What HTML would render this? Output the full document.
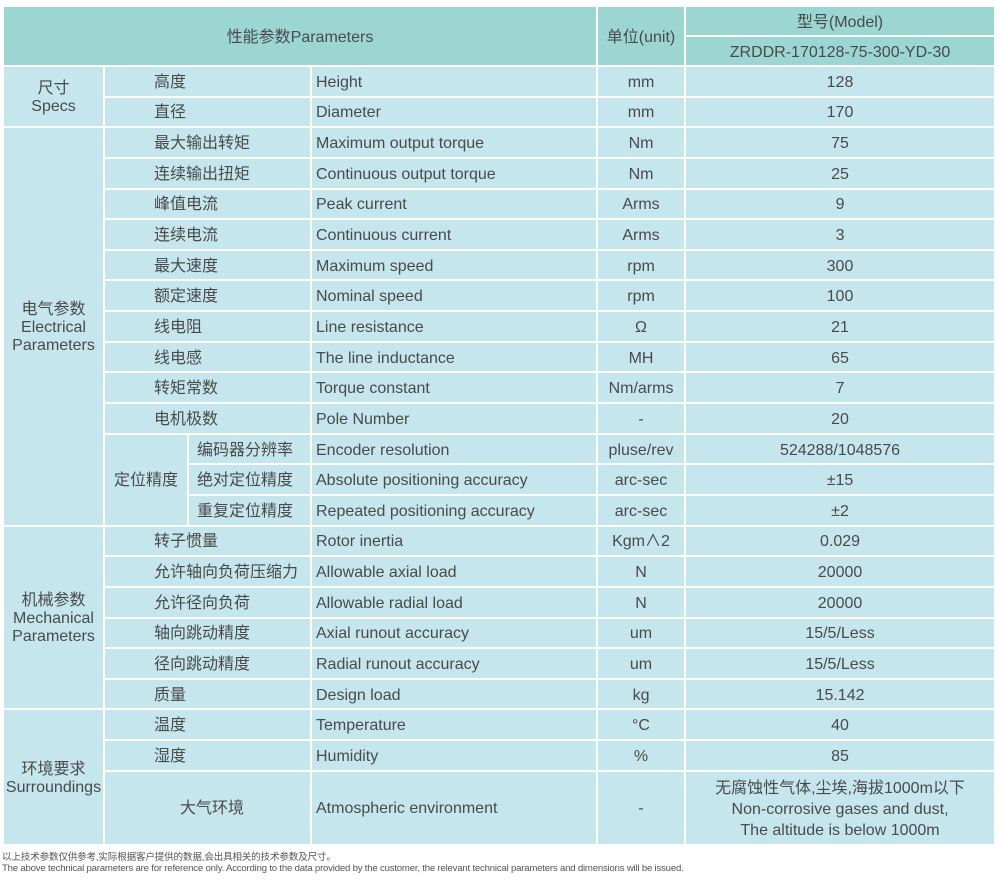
<!DOCTYPE html>
<html><head><meta charset="utf-8"><style>
body{margin:0;background:#fff;width:999px;height:883px;overflow:hidden;font-family:"Liberation Sans","Noto Sans CJK SC",sans-serif;color:#4a4a4a;}
table{position:absolute;left:2px;top:5px;width:994px;border-collapse:collapse;table-layout:fixed;font-size:16px;}
td{border:2px solid #fff;background:#c5e6ec;padding:3px 0 0 0;height:25.65px;text-align:center;line-height:18px;white-space:nowrap;}
tr.h td{background:#9bd6d2;height:25px;}
td.cn{text-align:left;padding-left:49px;}
td.cn2{text-align:left;padding-left:8px;}
td.en{text-align:left;padding-left:4px;}
.foot{position:absolute;left:2px;font-size:9.6px;color:#555;letter-spacing:-0.2px;}
</style></head><body>
<table>
<colgroup><col style="width:101px"><col style="width:84px"><col style="width:123px"><col style="width:286px"><col style="width:88px"><col style="width:310px"></colgroup>
<tr class="h"><td colspan="4" rowspan="2">性能参数Parameters</td><td rowspan="2">单位(unit)</td><td>型号(Model)</td></tr>
<tr class="h"><td>ZRDDR-170128-75-300-YD-30</td></tr>
<tr><td rowspan="2">尺寸<br>Specs</td><td colspan="2" class="cn">高度</td><td class="en">Height</td><td>mm</td><td>128</td></tr>
<tr><td colspan="2" class="cn">直径</td><td class="en">Diameter</td><td>mm</td><td>170</td></tr>
<tr><td rowspan="13">电气参数<br>Electrical<br>Parameters</td><td colspan="2" class="cn">最大输出转矩</td><td class="en">Maximum output torque</td><td>Nm</td><td>75</td></tr>
<tr><td colspan="2" class="cn">连续输出扭矩</td><td class="en">Continuous output torque</td><td>Nm</td><td>25</td></tr>
<tr><td colspan="2" class="cn">峰值电流</td><td class="en">Peak current</td><td>Arms</td><td>9</td></tr>
<tr><td colspan="2" class="cn">连续电流</td><td class="en">Continuous current</td><td>Arms</td><td>3</td></tr>
<tr><td colspan="2" class="cn">最大速度</td><td class="en">Maximum speed</td><td>rpm</td><td>300</td></tr>
<tr><td colspan="2" class="cn">额定速度</td><td class="en">Nominal speed</td><td>rpm</td><td>100</td></tr>
<tr><td colspan="2" class="cn">线电阻</td><td class="en">Line resistance</td><td>Ω</td><td>21</td></tr>
<tr><td colspan="2" class="cn">线电感</td><td class="en">The line inductance</td><td>MH</td><td>65</td></tr>
<tr><td colspan="2" class="cn">转矩常数</td><td class="en">Torque constant</td><td>Nm/arms</td><td>7</td></tr>
<tr><td colspan="2" class="cn">电机极数</td><td class="en">Pole Number</td><td>-</td><td>20</td></tr>
<tr><td rowspan="3">定位精度</td><td class="cn2">编码器分辨率</td><td class="en">Encoder resolution</td><td>pluse/rev</td><td>524288/1048576</td></tr>
<tr><td class="cn2">绝对定位精度</td><td class="en">Absolute positioning accuracy</td><td>arc-sec</td><td>±15</td></tr>
<tr><td class="cn2">重复定位精度</td><td class="en">Repeated positioning accuracy</td><td>arc-sec</td><td>±2</td></tr>
<tr><td rowspan="6">机械参数<br>Mechanical<br>Parameters</td><td colspan="2" class="cn">转子惯量</td><td class="en">Rotor inertia</td><td>Kgm∧2</td><td>0.029</td></tr>
<tr><td colspan="2" class="cn">允许轴向负荷压缩力</td><td class="en">Allowable axial load</td><td>N</td><td>20000</td></tr>
<tr><td colspan="2" class="cn">允许径向负荷</td><td class="en">Allowable radial load</td><td>N</td><td>20000</td></tr>
<tr><td colspan="2" class="cn">轴向跳动精度</td><td class="en">Axial runout accuracy</td><td>um</td><td>15/5/Less</td></tr>
<tr><td colspan="2" class="cn">径向跳动精度</td><td class="en">Radial runout accuracy</td><td>um</td><td>15/5/Less</td></tr>
<tr><td colspan="2" class="cn">质量</td><td class="en">Design load</td><td>kg</td><td>15.142</td></tr>
<tr><td rowspan="3">环境要求<br>Surroundings</td><td colspan="2" class="cn">温度</td><td class="en">Temperature</td><td>°C</td><td>40</td></tr>
<tr><td colspan="2" class="cn">湿度</td><td class="en">Humidity</td><td>%</td><td>85</td></tr>
<tr><td colspan="2" class="cn" style="height:69px;padding-left:75px">大气环境</td><td class="en">Atmospheric environment</td><td>-</td><td style="line-height:21px">无腐蚀性气体,尘埃,海拔1000m以下<br>Non-corrosive gases and dust,<br>The altitude is below 1000m</td></tr>
</table>
<div class="foot" style="top:849px">以上技术参数仅供参考,实际根据客户提供的数据,会出具相关的技术参数及尺寸。</div>
<div class="foot" style="top:863px">The above technical parameters are for reference only. According to the data provided by the customer, the relevant technical parameters and dimensions will be issued.</div>
</body></html>
